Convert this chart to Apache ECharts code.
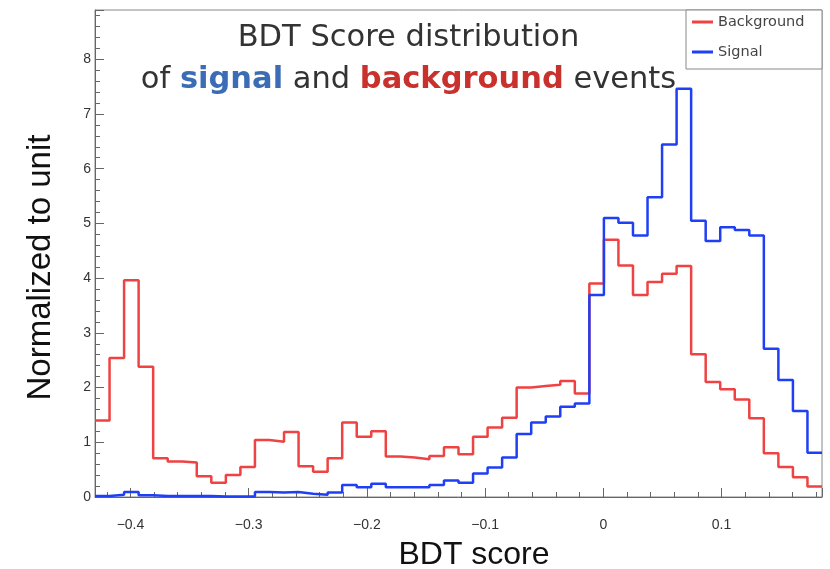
<!DOCTYPE html>
<html>
<head>
<meta charset="utf-8">
<script src="https://cdn.jsdelivr.net/npm/echarts@6/dist/echarts.min.js"></script>
<style>html,body{margin:0;padding:0;background:#fff;}#c{width:830px;height:569px;}</style>
</head>
<body>
<div id="c"></div>
<script>
// Histogram binning (50 bins)
const binStart = -0.43;
const binWidth = 0.0123;
const nBins = 50;

// Background (red) bin contents
const backgroundValues = [
  1.40, 2.54, 3.96, 2.38, 0.71, 0.65, 0.63, 0.38, 0.26, 0.40,
  0.55, 1.04, 1.01, 1.19, 0.56, 0.46, 0.71, 1.36, 1.10, 1.20,
  0.74, 0.72, 0.69, 0.75, 0.91, 0.78, 1.10, 1.27, 1.45, 2.00,
  2.03, 2.05, 2.12, 1.89, 3.90, 4.70, 4.23, 3.69, 3.93, 4.08,
  4.22, 2.61, 2.10, 1.97, 1.78, 1.44, 0.80, 0.55, 0.36, 0.19
];

// Signal (blue) bin contents
const signalValues = [
  0.02, 0.04, 0.09, 0.03, 0.02, 0.02, 0.02, 0.02, 0.01, 0.01,
  0.01, 0.09, 0.08, 0.09, 0.06, 0.04, 0.08, 0.22, 0.18, 0.24,
  0.18, 0.18, 0.18, 0.22, 0.30, 0.26, 0.43, 0.54, 0.72, 1.15,
  1.36, 1.47, 1.65, 1.71, 3.69, 5.10, 5.01, 4.78, 5.48, 6.44,
  7.46, 5.05, 4.68, 4.93, 4.88, 4.78, 2.71, 2.14, 1.57, 0.81
];

const seriesNames = ['Background', 'Signal'];
const xAxisTitle = 'BDT score';
const yAxisTitle = 'Normalized to unit';

function histPoints(vals) {
  const pts = [];
  for (let i = 0; i < vals.length; i++) {
    pts.push([+(binStart + i * binWidth).toFixed(5), vals[i]]);
  }
  pts.push([+(binStart + vals.length * binWidth).toFixed(5), vals[vals.length - 1]]);
  return pts;
}

const chart = echarts.init(document.getElementById('c'), null, {renderer: 'canvas'});
const axisColor = '#666';
chart.setOption({
  animation: false,
  backgroundColor: '#fff',
  title: {
    left: 403.5,
    top: 12.5,
    textAlign: 'center',
    text: '{a|BDT Score distribution}\n{a|of }{b|signal}{a| and }{c|background}{a| events}',
    textStyle: {
      fontWeight: 'normal',
      rich: {
        a: {fontFamily: 'DejaVu Sans', fontSize: 30.5, color: '#333', fontWeight: 'normal', lineHeight: 42},
        b: {fontFamily: 'DejaVu Sans', fontSize: 30.5, color: '#3a6db5', fontWeight: 'bold', lineHeight: 42},
        c: {fontFamily: 'DejaVu Sans', fontSize: 30.5, color: '#c8312c', fontWeight: 'bold', lineHeight: 42}
      }
    }
  },
  graphic: [{
    type: 'rect',
    shape: {x: 686, y: 10, width: 136, height: 59},
    style: {fill: '#fff', stroke: '#888', lineWidth: 1},
    z: 5
  }],
  legend: {
    left: 692,
    top: 14,
    orient: 'vertical',
    padding: 0,
    itemGap: 14,
    itemWidth: 21,
    itemHeight: 3,
    icon: 'rect',
    z: 10,
    data: seriesNames,
    textStyle: {fontFamily: 'DejaVu Sans', fontSize: 14.5, color: '#444', lineHeight: 16}
  },
  grid: {
    left: 95, right: 8, top: 10, bottom: 72,
    outerBoundsMode: 'none',
    containLabel: false,
    show: true, borderColor: '#888', borderWidth: 1, backgroundColor: 'transparent'
  },
  xAxis: {
    type: 'value',
    min: binStart,
    max: +(binStart + nBins * binWidth).toFixed(5),
    name: xAxisTitle,
    nameLocation: 'middle',
    nameGap: 42,
    nameTextStyle: {fontFamily: 'Liberation Sans', fontSize: 32, color: '#111', padding: [0, 0, 0, 31]},
    axisLine: {show: true, onZero: false, lineStyle: {color: axisColor, width: 1}},
    axisTick: {show: true, inside: true, length: 9, lineStyle: {color: axisColor}},
    minorTick: {show: true, splitNumber: 5, length: 5, lineStyle: {color: axisColor}},
    splitLine: {show: false},
    axisLabel: {
      showMinLabel: false, showMaxLabel: false, margin: 21,
      fontFamily: 'Liberation Sans', fontSize: 14, color: '#333',
      formatter: v => (Math.abs(v) < 1e-9 ? '0' : (+v.toFixed(2)).toString().replace('-', '\u2212'))
    }
  },
  yAxis: {
    type: 'value',
    min: 0, max: 8.9, interval: 1,
    name: yAxisTitle,
    nameLocation: 'middle',
    nameGap: 38,
    nameTextStyle: {fontFamily: 'Liberation Sans', fontSize: 33, color: '#111', padding: [0, 28, 0, 0]},
    axisLine: {show: true, onZero: false, lineStyle: {color: axisColor, width: 1}},
    axisTick: {show: true, inside: true, length: 9, lineStyle: {color: axisColor}},
    minorTick: {show: true, splitNumber: 5, length: 5, lineStyle: {color: axisColor}},
    splitLine: {show: false},
    axisLabel: {showMaxLabel: false, margin: 4, fontFamily: 'Liberation Sans', fontSize: 14, color: '#333'}
  },
  series: [
    {
      name: seriesNames[0], type: 'line', step: 'end', showSymbol: false, symbol: 'none',
      data: histPoints(backgroundValues),
      lineStyle: {color: '#ef4242', width: 2.5}, itemStyle: {color: '#ef4242'}, z: 3
    },
    {
      name: seriesNames[1], type: 'line', step: 'end', showSymbol: false, symbol: 'none',
      data: histPoints(signalValues),
      lineStyle: {color: '#1f3ff5', width: 2.5}, itemStyle: {color: '#1f3ff5'}, z: 4
    }
  ]
});
</script>
</body>
</html>
